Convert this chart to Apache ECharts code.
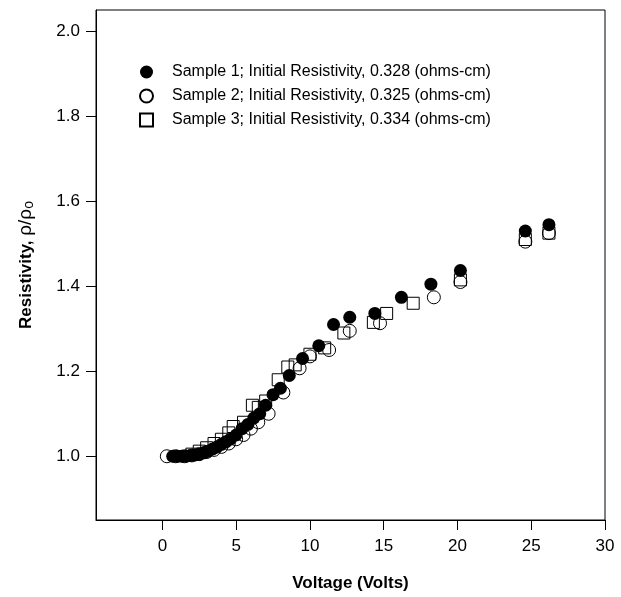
<!DOCTYPE html>
<html><head><meta charset="utf-8">
<script src="https://cdn.jsdelivr.net/npm/echarts@6/dist/echarts.min.js"></script>
<style>html,body{margin:0;padding:0;background:#fff}#c{width:621px;height:597px}</style>
</head><body><div id="c"></div>
<script>
const legendNames = [
  'Sample 1; Initial Resistivity, 0.328 (ohms-cm)',
  'Sample 2; Initial Resistivity, 0.325 (ohms-cm)',
  'Sample 3; Initial Resistivity, 0.334 (ohms-cm)'
];
const xTicks = [0, 5, 10, 15, 20, 25, 30];
const yTicks = [1.0, 1.2, 1.4, 1.6, 1.8, 2.0];

const s1x = [0.7,1.0,1.3,1.6,1.9,2.2,2.5,2.8,3.1,3.4,3.7,4.0,4.3,4.6,5.0,5.4,5.8,6.2,6.6,7.0,7.5,8.0,8.6,9.5,10.6,11.6,12.7,14.4,16.2,18.2,20.2,24.6,26.2];
const s1y = [1.0,1.0,1.0,1.0,1.002,1.003,1.005,1.008,1.012,1.017,1.022,1.028,1.034,1.040,1.05,1.065,1.075,1.09,1.10,1.12,1.145,1.16,1.19,1.23,1.26,1.31,1.327,1.336,1.374,1.405,1.437,1.53,1.545];

const s2x = [0.3,0.9,1.5,2.0,2.5,3.0,3.5,4.0,4.5,5.0,5.5,6.0,6.5,7.2,8.2,9.3,10.0,11.3,12.7,14.75,18.4,20.2,24.6,26.2];
const s2y = [1.0,1.0,1.0,1.002,1.005,1.01,1.015,1.022,1.03,1.04,1.05,1.065,1.08,1.10,1.15,1.207,1.235,1.25,1.295,1.313,1.374,1.41,1.505,1.525];

const s3x = [2.0,2.5,3.0,3.5,4.0,4.5,4.8,5.5,6.1,6.5,7.0,7.85,8.5,9.0,10.0,11.0,12.3,14.3,15.2,17.0,20.2,24.6,26.2];
const s3y = [1.005,1.012,1.02,1.03,1.04,1.055,1.07,1.08,1.12,1.115,1.13,1.18,1.21,1.215,1.24,1.255,1.29,1.315,1.336,1.36,1.415,1.51,1.525];

function pairs(xs, ys){ return xs.map((x,i)=>[x, ys[i]]); }

const chart = echarts.init(document.getElementById('c'), null, {renderer:'canvas'});
const hollow = {color:'rgba(0,0,0,0)', borderColor:'#000', borderWidth:1, opacity:1};
chart.setOption({
  animation:false,
  backgroundColor:'#fff',
  textStyle:{fontFamily:'Liberation Sans, Arial, sans-serif'},
  grid:{left:96, right:16, top:10, bottom:77, show:true, borderColor:'#000', borderWidth:1, backgroundColor:'transparent'},
  legend:{
    orient:'vertical', left:134, top:59, itemGap:8, itemWidth:13, itemHeight:13,
    data:legendNames,
    textStyle:{fontSize:16, color:'#000', fontFamily:'Liberation Sans, Arial, sans-serif', padding:[0,0,0,14]}
  },
  xAxis:{
    type:'value', min:-4.5, max:30,
    name:'Voltage (Volts)', nameLocation:'middle', nameGap:55,
    nameTextStyle:{fontSize:17, fontWeight:'bold', color:'#000'},
    axisLine:{show:true, onZero:false, lineStyle:{color:'#000'}},
    axisTick:{show:true, length:10, inside:false, customValues:xTicks, lineStyle:{color:'#000'}},
    axisLabel:{fontSize:17, color:'#000', margin:18, customValues:xTicks},
    splitLine:{show:false}
  },
  yAxis:{
    type:'value', min:0.85, max:2.05,
    name:'{b|Resistivity, }{n|ρ/ρ}{s|o}', nameLocation:'middle', nameGap:60,
    nameTextStyle:{color:'#000', rich:{
      b:{fontSize:17, fontWeight:'bold', color:'#000'},
      n:{fontSize:19, color:'#000'},
      s:{fontSize:14, color:'#000', verticalAlign:'bottom', padding:[6,0,0,0]}
    }},
    axisLine:{show:true, onZero:false, lineStyle:{color:'#000'}},
    axisTick:{show:true, length:10, inside:false, customValues:yTicks, lineStyle:{color:'#000'}},
    axisLabel:{fontSize:17, color:'#000', margin:16, customValues:yTicks, formatter:v=>v.toFixed(1)},
    splitLine:{show:false}
  },
  series:[
    {name:legendNames[0], type:'scatter', symbol:'circle', symbolSize:13, z:4,
     itemStyle:{color:'#000', opacity:1}, data:pairs(s1x,s1y)},
    {name:legendNames[1], type:'scatter', symbol:'circle', symbolSize:13, z:3,
     itemStyle:hollow, data:pairs(s2x,s2y)},
    {name:legendNames[2], type:'scatter', symbol:'rect', symbolSize:12, z:2,
     itemStyle:hollow, data:pairs(s3x,s3y)}
  ]
});
</script></body></html>
